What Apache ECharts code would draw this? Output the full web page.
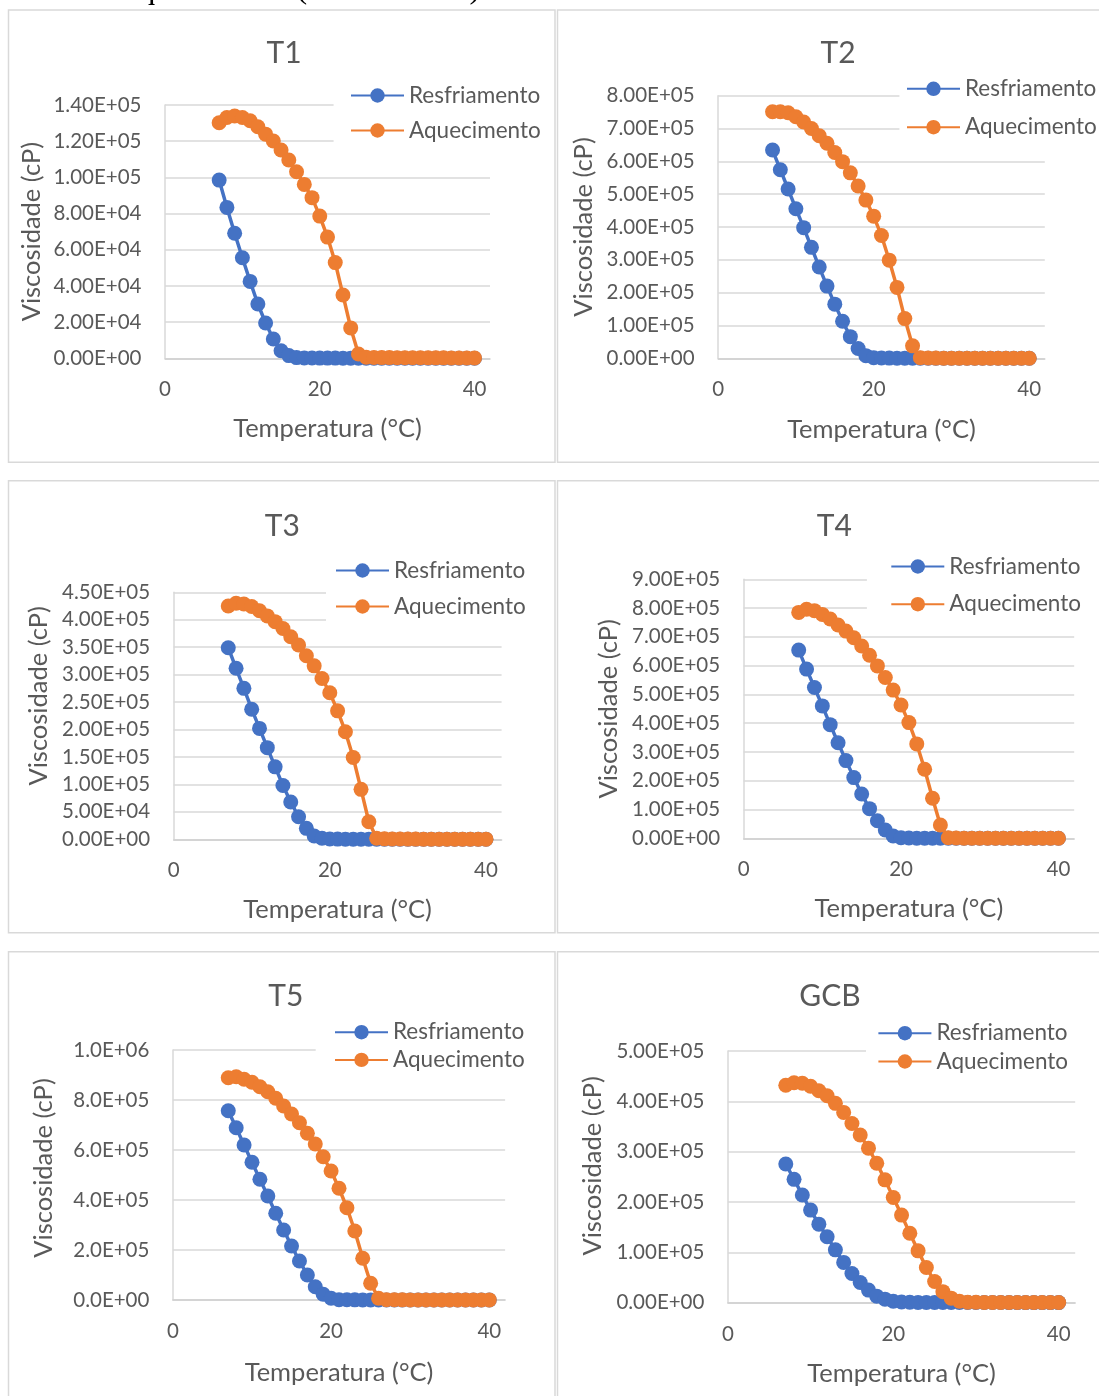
<!DOCTYPE html>
<html><head><meta charset="utf-8">
<script src="https://cdn.jsdelivr.net/npm/echarts@6/dist/echarts.min.js"></script>
<style>html,body{margin:0;padding:0;background:#fff}#c{width:1099px;height:1396px}</style>
</head><body><div id="c"></div>
<script>
// ---------- DATA ----------
const temps = [7,8,9,10,11,12,13,14,15,16,17,18,19,20,21,22,23,24,25,26,27,28,29,30,31,32,33,34,35,36,37,38,39,40];
const panelNames = ['T1','T2','T3','T4','T5','GCB'];
const seriesNames = ['Resfriamento','Aquecimento'];
const xTickLabels = [0, 20, 40];
const yAxisTitle = 'Viscosidade (cP)';
const xAxisTitle = 'Temperatura (°C)';
const topText = 'durante o aquecimento (7 °C a 40 °C)';

const t1Resfriamento = [98500,83400,69100,55600,42500,30000,19500,10700,4200,1500,400,200,150,120,100,100,90,90,80,80,80,70,70,70,60,60,60,60,50,50,50,50,50,50];
const t1Aquecimento  = [130200,133100,133900,133100,131300,128000,123900,120100,115100,109600,103100,96100,88800,78600,67000,52900,35000,16800,2400,600,500,400,400,350,300,300,300,250,250,250,200,200,200,200];

const t2Resfriamento = [634500,574600,515700,455800,398000,338000,278000,220000,165000,113000,66000,30000,8000,2000,800,600,500,400,400,300,300,300,300,250,250,250,200,200,200,200,200,200,200,200];
const t2Aquecimento  = [751000,751000,748000,736000,720000,700000,678000,655000,627000,599000,565000,525000,482000,433000,374000,299000,216000,121000,38000,2000,800,600,500,500,400,400,400,300,300,300,300,300,300,300];

const t3Resfriamento = [349000,311500,275000,237000,202000,167000,132000,98000,68000,41000,20000,6000,2000,600,400,300,300,250,250,200,200,200,200,150,150,150,150,150,100,100,100,100,100,100];
const t3Aquecimento  = [425000,430000,428600,424000,416500,407000,396500,384000,369000,354000,334500,316000,293000,267000,234000,196000,149000,91000,32000,2000,800,600,500,400,400,300,300,300,300,250,250,250,250,250];

const t4Resfriamento = [654000,588000,524000,460000,395000,332000,270000,211000,154000,103000,61000,29000,8000,2000,800,600,500,400,400,300,300,300,300,250,250,250,200,200,200,200,200,200,200,200];
const t4Aquecimento  = [785000,796000,791000,778000,762000,741000,720000,697000,668000,636000,599000,559000,515000,463000,402000,328000,240000,139000,46000,2000,800,600,500,500,400,400,400,300,300,300,300,300,300,300];

const t5Resfriamento = [757000,689000,620000,551000,483000,416000,347000,280000,216000,156000,100000,53000,23000,7000,1000,800,600,500,500,400,400,400,300,300,300,300,300,250,250,250,250,250,250,250];
const t5Aquecimento  = [889000,893000,883000,871000,853000,833000,807000,776000,744000,709000,667000,624000,573000,516000,447000,369000,276000,167000,67000,7000,1000,800,600,500,500,400,400,400,300,300,300,300,300,300];

const gcbResfriamento = [275500,245000,214000,184000,156000,131000,105000,80000,58000,40000,25000,13000,7000,3000,1300,800,600,500,500,400,400,400,300,300,300,300,300,250,250,250,250,250,250,250];
const gcbAquecimento  = [432000,437000,436000,430000,421000,411000,396000,378000,356000,333000,307000,277000,244000,209000,174000,138000,103000,70000,42000,22000,9000,3000,1000,800,600,500,500,400,400,400,400,400,400,400];

const resfriamentoSets = [t1Resfriamento,t2Resfriamento,t3Resfriamento,t4Resfriamento,t5Resfriamento,gcbResfriamento];
const aquecimentoSets  = [t1Aquecimento,t2Aquecimento,t3Aquecimento,t4Aquecimento,t5Aquecimento,gcbAquecimento];

const yMaxes    = [140000, 800000, 450000, 900000, 1000000, 500000];
const ySteps    = [20000, 100000, 50000, 100000, 200000, 100000];
const yDecimals = [2, 2, 2, 2, 1, 2];
const xMin = 0, xMax = 42, xStep = 20;

// ---------- LAYOUT (positions / sizes) ----------
const layout = [
  {grid:[165,105,325,253.3],   tx:284,   ty:38.5, lg:{sx:350,  r1:95,    p:34,   hx:333.6}, xg:58.2, yg:121,   ys:0,  box:[8.5,10,546.5,452.3]},
  {grid:[718.1,95.7,326.7,262.6], tx:838, ty:38.5, lg:{sx:906, r1:88.3, p:37.4, hx:899.4}, xg:58.9, yg:122.5, ys:0,  box:[557.5,10,600,452.3]},
  {grid:[173.6,592.3,328,247], tx:282.4, ty:511,  lg:{sx:335,  r1:570,   p:35,   hx:326},   xg:57.9, yg:122.7, ys:20, box:[8.5,480.7,546.5,452]},
  {grid:[743.6,579.3,330.6,259], tx:834.3, ty:511, lg:{sx:890.3, r1:566, p:36.7, hx:866.9}, xg:58.2, yg:122.8, ys:0,  box:[557.5,480.7,600,452]},
  {grid:[172.9,1050,332.2,250], tx:285.9, ty:981, lg:{sx:334,  r1:1031.7, p:26.7, hx:315.7}, xg:59.9, yg:116.8, ys:7,  box:[8.5,951.7,546.5,600]},
  {grid:[727.9,1051,347.3,251.7], tx:830, ty:981,  lg:{sx:877.4, r1:1032.7, p:27.3, hx:866}, xg:58.5, yg:122.9, ys:11, box:[557.5,951.7,600,600]}
];

const FONT = 'Lato';
const TXT = '#595959';
const BLUE = '#4472C4', ORANGE = '#ED7D31';
const LEG_LH = 22;

function sci(v, d) {
  if (v === 0) return (0).toFixed(d) + 'E+00';
  let e = Math.floor(Math.log10(v) + 1e-9);
  let m = v / Math.pow(10, e);
  return m.toFixed(d) + 'E+' + String(e).padStart(2, '0');
}

const option = {
  animation: false,
  backgroundColor: '#fff',
  title: [], grid: [], xAxis: [], yAxis: [], legend: [], series: [],
  graphic: []
};

option.graphic.push({
  type: 'text', x: -3, y: 6, z: 100,
  style: {text: topText, font: '32px "Liberation Serif"', fill: '#000', verticalAlign: 'bottom', align: 'left'}
});

layout.forEach((L, i) => {
  option.graphic.push({
    type: 'rect', z: -1, silent: true,
    shape: {x: L.box[0], y: L.box[1], width: L.box[2], height: L.box[3]},
    style: {fill: 'none', stroke: '#d9d9d9', lineWidth: 1.5}
  });
  option.title.push({
    text: panelNames[i], left: L.tx, top: L.ty, textAlign: 'center', padding: 0,
    textStyle: {fontFamily: FONT, fontSize: 30, fontWeight: 'normal', color: TXT}
  });
  option.grid.push({left: L.grid[0], top: L.grid[1], width: L.grid[2], height: L.grid[3], containLabel: false, outerBoundsMode: 'none'});
  option.xAxis.push({
    type: 'value', gridIndex: i, min: xMin, max: xMax, interval: xStep,
    name: xAxisTitle, nameLocation: 'middle', nameGap: L.xg,
    nameTextStyle: {fontFamily: FONT, fontSize: 25.5, color: TXT, lineHeight: 25},
    axisLine: {show: true, onZero: false, lineStyle: {color: '#d0d0d0', width: 1.5}},
    axisTick: {show: false},
    splitLine: {show: false},
    axisLabel: {fontFamily: FONT, fontSize: 20.5, color: TXT, margin: 21, showMaxLabel: false,
      formatter: v => (xTickLabels.indexOf(v) >= 0 ? String(v) : '')}
  });
  const d = yDecimals[i];
  option.yAxis.push({
    type: 'value', gridIndex: i, min: 0, max: yMaxes[i], interval: ySteps[i],
    name: yAxisTitle, nameLocation: 'middle', nameGap: L.yg - 0.5,
    nameTextStyle: {fontFamily: FONT, fontSize: 25.5, color: TXT, lineHeight: 25, padding: [0, 0, 0, L.ys * 2]},
    axisLine: {show: true, lineStyle: {color: '#d9d9d9', width: 1.5}},
    axisTick: {show: false},
    splitLine: {show: true, lineStyle: {color: '#d9d9d9', width: 1.5}},
    axisLabel: {fontFamily: FONT, fontSize: 20.5, color: TXT, margin: 23.5, formatter: v => sci(v, d)}
  });
  const padL = L.lg.sx - L.lg.hx;
  option.legend.push({
    orient: 'vertical', left: L.lg.hx, top: L.lg.r1 - LEG_LH / 2 - 8,
    padding: [8, 12, 8, padL], backgroundColor: '#fff',
    itemWidth: 53, itemHeight: 18, itemGap: L.lg.p - LEG_LH,
    data: seriesNames.slice(),
    textStyle: {fontFamily: FONT, fontSize: 22.5, color: TXT, lineHeight: LEG_LH},
    selectedMode: false
  });
  [resfriamentoSets[i], aquecimentoSets[i]].forEach((vals, j) => {
    const col = j === 0 ? BLUE : ORANGE;
    option.series.push({
      type: 'line', name: seriesNames[j], xAxisIndex: i, yAxisIndex: i,
      data: temps.map((t, k) => [t, vals[k]]),
      symbol: 'circle', symbolSize: 15, showSymbol: true,
      lineStyle: {color: col, width: 3.5}, itemStyle: {color: col},
      z: 2 + j
    });
  });
});

const chart = echarts.init(document.getElementById('c'), null, {renderer: 'canvas'});
chart.setOption(option);
</script>
</body></html>
